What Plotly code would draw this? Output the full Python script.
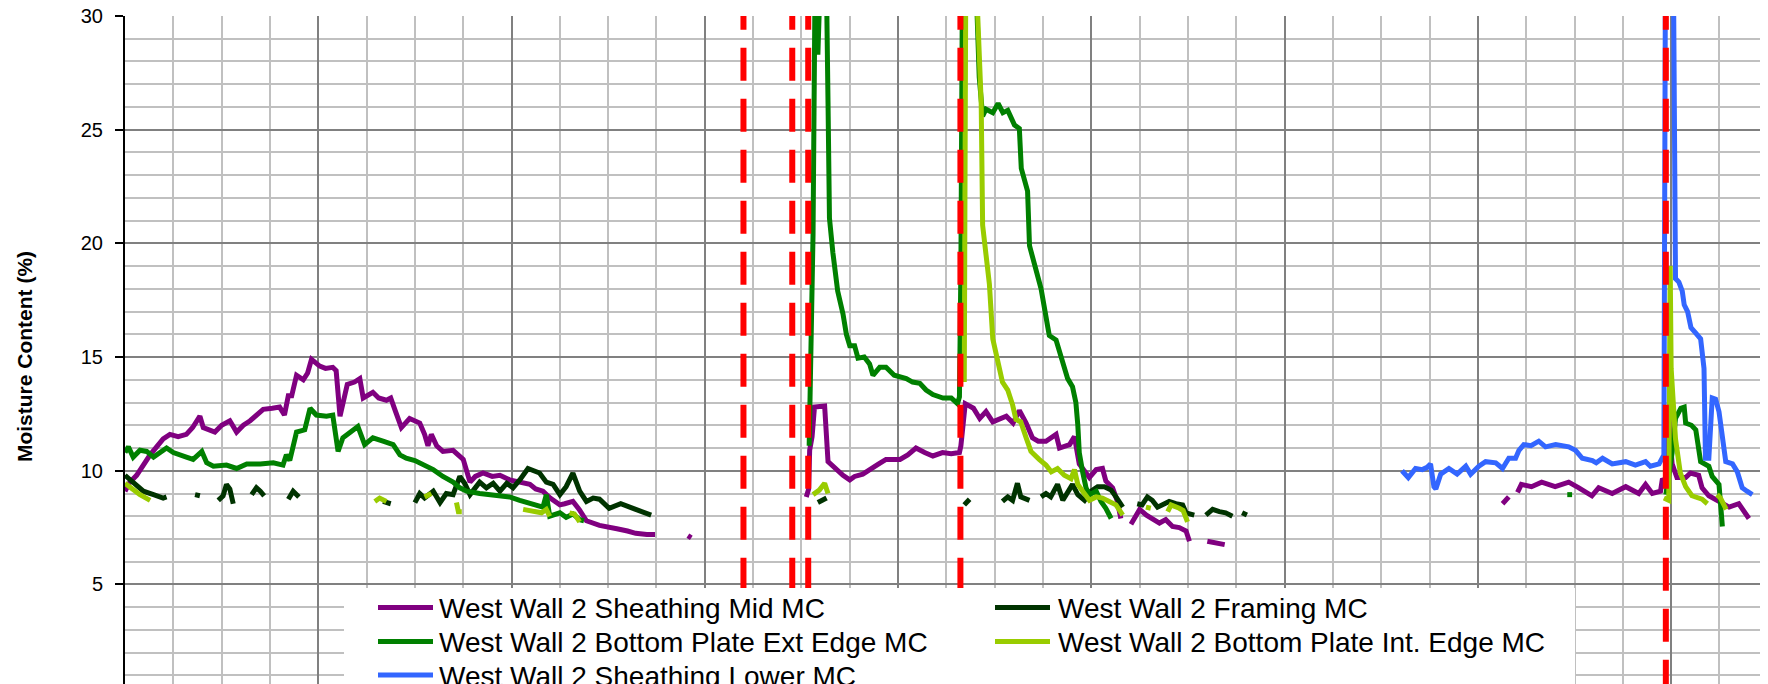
import plotly.graph_objects as go

# moisture content readings, x in weeks from start of monitoring (None = gap in logger data)
mid_x = [0.0, 0.1, 0.24, 0.52, 0.79, 0.93, 1.1, 1.27, 1.4, 1.55, 1.62, 1.86, 2.0, 2.17, 2.31, 2.45, 2.59, 2.86, 3.05,
         3.2, 3.3, 3.38, 3.45, 3.55, 3.69, 3.78, 3.86, 4.03, 4.15, 4.3, 4.37, 4.45, 4.6, 4.75, 4.86, 4.93, 5.13, 5.25,
         5.41, 5.5, 5.6, 5.72, 5.89, 6.0, 6.1, 6.2, 6.27, 6.34, 6.45, 6.58, 6.79, 7.0, 7.14, 7.25, 7.41, 7.6, 7.76,
         7.96, 8.17, 8.38, 8.5, 8.65, 8.8, 9.0, 9.1, 9.27, 9.4, 9.55, 9.82, 10.0, 10.18, 10.4, 10.57, 10.8, 10.97,
         None, 11.65, 11.72,
         None, 14.1, 14.15, 14.17, 14.22, 14.27, 14.48, 14.55, 14.65, 14.75, 14.86, 15.0, 15.1, 15.27, 15.48, 15.6,
         15.75, 16.04, 16.2, 16.37, 16.55, 16.72, 16.92, 17.1, 17.27, 17.3, 17.39, 17.56, 17.69, 17.82, 17.96, 18.1,
         18.24, 18.38, 18.51, 18.65, 18.78, 18.9, 19.06, 19.27, 19.34, 19.55, 19.65, 19.75, 19.96, 20.1, 20.23, 20.3,
         20.44, 20.54, 20.61,
         None, 20.82, 21.0, 21.14, 21.27, 21.41, 21.54, 21.68, 21.82, 21.96, 22.03,
         None, 22.4, 22.55, 22.76,
         None, 28.51, 28.64,
         None, 28.82, 28.9, 29.11, 29.32, 29.6, 29.88, 30.09, 30.36, 30.5, 30.78, 31.06, 31.33, 31.47, 31.61, 31.78,
         31.82, 31.88, 31.95, 32.02, 32.12, 32.3, 32.4, 32.57, 32.64, 32.78, 32.99, 33.2, 33.4, 33.61]
mid_mc = [9.1, 9.5, 9.8, 10.7, 11.4, 11.6, 11.5, 11.6, 11.9, 12.4, 11.9, 11.7, 12.0, 12.2, 11.7, 12.0, 12.2, 12.7, 12.75,
          12.8, 12.45, 13.3, 13.3, 14.2, 14.0, 14.3, 14.9, 14.6, 14.5, 14.55, 14.4, 12.4, 13.8, 13.9, 14.05, 13.2, 13.45,
          13.2, 13.1, 13.2, 12.6, 11.9, 12.3, 12.2, 12.1, 11.6, 11.1, 11.6, 11.1, 10.85, 10.9, 10.5, 9.5, 9.75, 9.9,
          9.75, 9.8, 9.6, 9.5, 9.4, 9.2, 9.1, 8.8, 8.5, 8.55, 8.65, 8.3, 7.8, 7.6, 7.55, 7.45, 7.35, 7.25, 7.2, 7.2,
          None, 7.15, 7.05,
          None, 8.85, 9.2, 10.9, 11.5, 12.8, 12.85, 10.4, 10.2, 10.0, 9.8, 9.6, 9.75, 9.85, 10.1, 10.3,
          10.5, 10.5, 10.7, 11.0, 10.8, 10.65, 10.8, 10.75, 10.8, 11.1, 12.95, 12.75, 12.3, 12.6, 12.15, 12.3,
          12.4, 12.1, 12.65, 12.1, 11.45, 11.3, 11.3, 11.6, 11.0, 11.15, 11.5, 10.3, 9.7, 10.05, 10.1, 9.55,
          9.25, 8.65, 7.9,
          None, 7.65, 8.3, 8.05, 7.85, 7.7, 7.85, 7.55, 7.5, 7.35, 6.9,
          None, 6.9, 6.85, 6.75,
          None, 8.55, 8.85,
          None, 9.05, 9.4, 9.3, 9.5, 9.3, 9.5, 9.25, 8.9, 9.25, 9.0, 9.3, 9.0, 9.4, 9.0, 9.1,
          9.65, 9.5, 12.2, 10.3, 9.7, 9.7, 9.9, 9.8, 9.25, 8.9, 8.65, 8.4, 8.55, 7.9]

framing_x = [0.0, 0.17, 0.38, 0.59, 0.79, 0.86,
             None, 1.45, 1.55,
             None, 1.93, 2.03, 2.1, 2.17, 2.24,
             None, 2.62, 2.72, 2.8, 2.88,
             None, 3.38, 3.48, 3.6,
             None, 5.34, 5.5,
             None, 6.0, 6.1, 6.2, 6.38, 6.52, 6.65, 6.79, 6.93, 7.03, 7.14, 7.34, 7.48, 7.62, 7.76, 7.9, 8.03, 8.17,
             8.34, 8.58, 8.72, 8.86, 9.0, 9.13, 9.27, 9.41, 9.55, 9.69, 9.82, 10.02, 10.26, 10.57, 10.82, 10.89,
             None, 14.34, 14.52,
             None, 17.37, 17.48,
             None, 18.16, 18.27, 18.37, 18.47, 18.54, 18.72,
             None, 18.96, 19.06, 19.16, 19.3, 19.41, 19.51, 19.61, 19.72, 19.86, 19.99, 20.13, 20.27, 20.41, 20.51,
             20.65,
             None, 20.95, 21.05, 21.16, 21.26, 21.37, 21.47, 21.61, 21.75, 21.89, 21.96, 22.13,
             None, 22.37, 22.51, 22.65, 22.78, 22.92,
             None, 23.12, 23.22]
framing_mc = [9.8, 9.5, 9.1, 8.95, 8.8, 8.85,
              None, 8.95, 8.9,
              None, 8.7, 8.9, 9.4, 9.2, 8.55,
              None, 8.95, 9.25, 9.1, 8.9,
              None, 8.75, 9.1, 8.85,
              None, 8.65, 8.55,
              None, 8.6, 9.0, 8.8, 9.1, 8.6, 9.0, 8.95, 9.75, 9.45, 8.95, 9.5, 9.25, 9.45, 9.1, 9.45, 9.25, 9.6,
              10.1, 9.9, 9.5, 9.4, 8.95, 9.3, 9.9, 9.1, 8.65, 8.8, 8.75, 8.35, 8.55, 8.3, 8.1, 8.05,
              None, 8.6, 8.8,
              None, 8.5, 8.75,
              None, 8.65, 8.85, 8.7, 9.45, 8.85, 8.7,
              None, 8.85, 9.0, 8.85, 9.4, 8.7, 9.1, 9.4, 8.95, 8.7, 9.1, 9.3, 9.3, 9.15, 8.85,
              8.4,
              None, 8.55, 8.5, 8.85, 8.7, 8.4, 8.5, 8.65, 8.55, 8.5, 8.15, 8.05,
              None, 8.05, 8.3, 8.2, 8.15, 8.0,
              None, 8.15, 8.05]

ext_x = [0.0, 0.07, 0.17, 0.31, 0.45, 0.59, 0.86, 1.0, 1.27, 1.41, 1.59, 1.69, 1.83, 2.1, 2.31, 2.52, 2.8, 3.07, 3.27,
         3.34, 3.41, 3.55, 3.72, 3.83, 3.96, 4.17, 4.3, 4.41, 4.51, 4.72, 4.82, 4.96, 5.13, 5.34, 5.55, 5.69, 5.82,
         6.0, 6.17, 6.38, 6.58, 6.79, 6.93, 7.07, 7.34, 7.62, 7.96, 8.17, 8.45, 8.65, 8.72, 8.79, 9.0, 9.13, 9.27,
         9.41, 9.5,
         None, 14.16, 14.2, 14.24, 14.28, 14.34, 14.38, 14.52, 14.55, 14.58, 14.65, 14.75, 14.86, 14.93, 15.0, 15.1,
         15.17, 15.3, 15.41, 15.48, 15.62, 15.75, 15.92, 16.17, 16.3, 16.45, 16.58, 16.72, 16.93, 17.1, 17.23, 17.27,
         17.3, 17.33, 17.62, 17.68, 17.75, 17.82, 17.96, 18.07, 18.17, 18.27, 18.41, 18.51, 18.55, 18.68, 18.72,
         18.86, 18.96, 19.1, 19.13, 19.27, 19.41, 19.51, 19.61, 19.68, 19.72, 19.75, 19.82, 19.89, 19.96, 20.1,
         20.2, 20.3, 20.41,
         None, 29.85, 29.95,
         None, 31.89, 32.02, 32.09, 32.2, 32.27, 32.3, 32.42, 32.51, 32.61, 32.78, 32.85, 32.99, 33.03, 33.06]
ext_mc = [10.8, 11.05, 10.6, 10.9, 10.85, 10.6, 11.0, 10.8, 10.6, 10.5, 10.85, 10.35, 10.2, 10.25, 10.1, 10.3, 10.3,
          10.35, 10.25, 10.7, 10.45, 11.7, 11.8, 12.75, 12.45, 12.4, 12.45, 10.85, 11.45, 11.8, 11.95, 11.15, 11.45,
          11.3, 11.15, 10.7, 10.55, 10.45, 10.25, 10.05, 9.75, 9.5, 9.25, 9.1, 9.0, 8.95, 8.85, 8.7, 8.55, 8.4, 8.95,
          8.0, 8.15, 7.95, 8.1, 7.85, 7.8,
          None, 11.1, 15.9, 20.4, 31.0, 28.3, 31.0, 31.0, 26.2, 21.1, 19.6, 17.9, 16.9, 16.0, 15.5, 15.5,
          14.95, 15.0, 14.7, 14.2, 14.55, 14.55, 14.2, 14.05, 13.9, 13.85, 13.55, 13.35, 13.2, 13.2, 12.95, 13.25,
          18.9, 31.0, 31.0, 27.3, 25.6, 25.9, 25.75, 26.15, 25.75, 25.85, 25.2, 25.05, 23.3, 22.3, 19.9,
          18.75, 18.0, 16.3, 15.95, 15.75, 14.65, 14.05, 13.7, 13.0, 12.0, 10.8, 9.95, 9.25, 8.95, 9.1,
          8.65, 8.35, 7.9,
          None, 8.95, 8.95,
          None, 8.95, 10.8, 12.3, 12.75, 12.8, 12.1, 12.0, 11.8, 10.4, 10.2, 9.75, 9.4, 8.35, 7.55]

int_x = [0.0, 0.17, 0.31, 0.52,
         None, 5.17, 5.27, 5.41,
         None, 6.2, 6.34,
         None, 6.86, 6.9, 6.97,
         None, 8.24, 8.45, 8.62, 8.72, 8.79,
         None, 9.2, 9.3, 9.41,
         None, 14.24, 14.37, 14.48, 14.55,
         None, 17.37, 17.4, 17.63, 17.72, 17.75, 17.82, 17.89, 17.96, 18.03, 18.16, 18.27, 18.37, 18.44, 18.54,
         18.65, 18.75, 18.92, 19.06, 19.17, 19.3, 19.44, 19.58, 19.65, 19.72, 19.82, 19.96, 20.1, 20.23, 20.37,
         20.51, 20.65,
         None, 21.13, 21.23,
         None, 21.58, 21.65, 21.82, 21.9, 21.99,
         None, 31.85, 31.95, 31.98, 32.0, 32.09, 32.19, 32.3, 32.43, 32.64, 32.75,
         None, 32.95, 33.02, 33.14]
int_mc = [9.45, 9.15, 8.95, 8.7,
          None, 8.65, 8.8, 8.65,
          None, 8.85, 9.0,
          None, 8.6, 8.2, 8.2,
          None, 8.3, 8.2, 8.15, 8.3, 8.0,
          None, 8.15, 8.1, 7.75,
          None, 8.95, 9.15, 9.45, 9.0,
          None, 13.9, 31.0, 31.0, 26.2, 20.8, 19.6, 18.2, 15.8, 15.1, 13.9, 13.55, 12.9, 12.25, 12.15,
          11.45, 10.85, 10.5, 10.25, 9.95, 10.1, 9.8, 9.65, 10.05, 9.4, 9.1, 8.7, 8.85, 8.8, 8.65,
          8.5, 8.05,
          None, 8.4, 8.35,
          None, 8.2, 8.5, 8.35, 8.25, 7.75,
          None, 8.8, 8.7, 19.0, 14.5, 11.4, 9.9, 9.3, 8.9, 8.75, 8.55,
          None, 8.95, 8.8, 8.3]

lower_x = [26.43, 26.56, 26.71, 26.85, 26.95, 27.02, 27.09, 27.13, 27.23, 27.4, 27.57, 27.75, 27.85, 28.02, 28.16,
           28.37, 28.51, 28.64, 28.78, 28.85, 28.95, 29.1, 29.26, 29.4, 29.61, 29.88, 30.02, 30.16, 30.37, 30.45,
           30.58, 30.78, 31.06, 31.26, 31.47, 31.57, 31.75, 31.85, 31.88, 32.05, 32.09, 32.16, 32.23, 32.27, 32.34,
           32.41, 32.51, 32.61, 32.68, 32.71, 32.78, 32.85, 32.92, 32.99, 33.13, 33.27, 33.37, 33.47, 33.57, 33.68]
lower_mc = [10.0, 9.7, 10.1, 10.05, 10.15, 10.3, 9.3, 9.2, 9.85, 10.1, 9.85, 10.2, 9.85, 10.2, 10.4,
            10.35, 10.1, 10.55, 10.55, 10.9, 11.15, 11.1, 11.3, 11.05, 11.15, 11.05, 10.9, 10.55, 10.45, 10.35,
            10.55, 10.3, 10.4, 10.25, 10.4, 10.2, 10.3, 10.7, 31.0, 31.0, 18.45, 18.3, 17.9, 17.3, 17.0,
            16.3, 16.05, 15.8, 14.5, 10.55, 10.55, 13.2, 13.15, 12.6, 10.4, 10.3, 9.95, 9.25, 9.1, 8.95]

# wetting events (red dashed markers)
event_x = [12.80, 13.81, 14.14, 17.29, 31.89]

names = ['West Wall 2 Sheathing Mid MC', 'West Wall 2 Framing MC', 'West Wall 2 Bottom Plate Ext Edge MC',
         'West Wall 2 Bottom Plate Int. Edge MC', 'West Wall 2 Sheathing Lower MC']
colors = ['#800080', '#003300', '#008000', '#99cc00', '#3366ff']
xs = [mid_x, framing_x, ext_x, int_x, lower_x]
ys = [mid_mc, framing_mc, ext_mc, int_mc, lower_mc]

FONT = 'Liberation Sans, Arial, sans-serif'
W, H = 1768, 684
OFF = 8          # page body margin the browser adds around the plot div
ML, MT = 117, 8  # plot area starts at about 125, 16 on screen

fig = go.Figure()
for name, color, x, y in zip(names, colors, xs, ys):
    fig.add_trace(go.Scatter(x=x, y=y, mode='lines', name=name, showlegend=False,
                             line=dict(color=color, width=5), connectgaps=False))

for ex in event_x:
    fig.add_trace(go.Scatter(x=[ex, ex], y=[30.85, 0], mode='lines', showlegend=False, hoverinfo='skip',
                             line=dict(color='#ff0000', width=6, dash='33px,18px')))


# legend drawn by hand so it can run off the bottom like the original (screen px -> paper)
def px_x(p):
    return (p - OFF - ML) / (W - ML)


def px_y(p):
    return (H - (p - OFF)) / (H - MT)


shapes = [dict(type='rect', xref='paper', yref='paper', x0=px_x(344), x1=px_x(1575), y0=px_y(740), y1=px_y(588),
               fillcolor='white', line=dict(width=0), layer='above')]
annotations = []
cols = [(378, 437), (995, 1056)]
rows = [607.5, 641.5, 675]
for k in range(len(names)):
    lx, tx = cols[k % 2]
    ry = rows[k // 2]
    shapes.append(dict(type='line', xref='paper', yref='paper', x0=px_x(lx), x1=px_x(lx + 55), y0=px_y(ry),
                       y1=px_y(ry), line=dict(color=colors[k], width=5), layer='above'))
    annotations.append(dict(text=names[k], xref='paper', yref='paper', x=px_x(tx), y=px_y(ry + 1), xanchor='left',
                            yanchor='middle', showarrow=False, font=dict(family=FONT, size=28, color='black')))

annotations.append(dict(text='<b>Moisture Content (%)</b>', xref='paper', yref='y', x=px_x(24), y=15,
                        xanchor='center', yanchor='middle', textangle=-90, showarrow=False,
                        font=dict(family=FONT, size=21, color='black')))

fig.update_layout(
    width=W, height=H,
    margin=dict(l=ML, r=0, t=MT, b=0, pad=0),
    paper_bgcolor='white', plot_bgcolor='white',
    font=dict(family=FONT, color='black'),
    shapes=shapes, annotations=annotations,
    xaxis=dict(range=[0, 34.17], tick0=0, dtick=4, showticklabels=False, ticks='', automargin=False,
               showgrid=True, gridcolor='#808080', gridwidth=2, zeroline=False,
               minor=dict(dtick=1, tick0=0, showgrid=True, gridcolor='#c0c0c0', gridwidth=2)),
    yaxis=dict(range=[0.27, 30], tick0=0, dtick=5, showgrid=True, gridcolor='#808080', gridwidth=2,
               zeroline=False, showline=True, linecolor='black', linewidth=2, automargin=False,
               ticks='outside', ticklen=8, tickwidth=2, tickcolor='black', ticklabelstandoff=8,
               ticklabeloverflow='allow',
               tickfont=dict(family=FONT, size=20, color='black'),
               minor=dict(dtick=1, tick0=0, showgrid=True, gridcolor='#c0c0c0', gridwidth=2)),
)

fig.write_html("out.html")
